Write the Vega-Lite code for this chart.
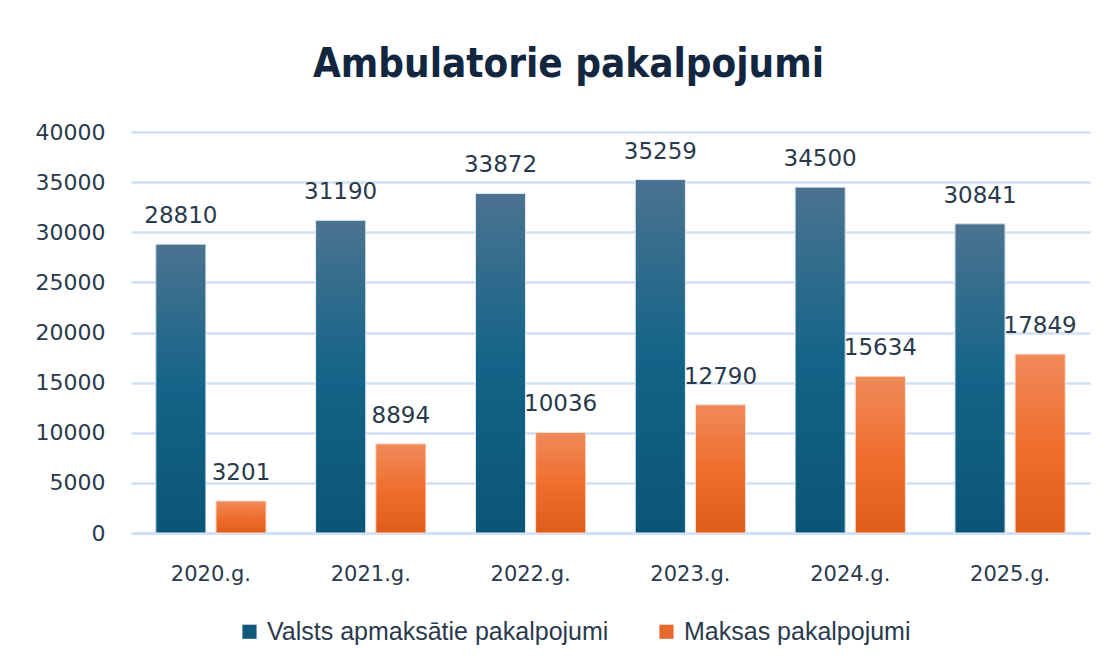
{
  "$schema": "https://vega.github.io/schema/vega-lite/v6.json",
  "width": 959,
  "height": 401,
  "autosize": {"type": "none"},
  "padding": {"left": 131, "top": 132, "right": 17, "bottom": 137},
  "background": "white",
  "config": {"view": {"stroke": null}},
  "title": {
    "text": "Ambulatorie pakalpojumi",
    "font": "DejaVu Sans Condensed, Liberation Sans Narrow, Roboto, sans-serif",
    "fontSize": 40,
    "fontWeight": "bold",
    "color": "#13263f",
    "anchor": "middle",
    "dx": -42,
    "offset": 36
  },
  "data": {
    "values": [
      {"year": "2020.g.", "series": "Valsts apmaksātie pakalpojumi", "value": 28810},
      {"year": "2020.g.", "series": "Maksas pakalpojumi", "value": 3201},
      {"year": "2021.g.", "series": "Valsts apmaksātie pakalpojumi", "value": 31190},
      {"year": "2021.g.", "series": "Maksas pakalpojumi", "value": 8894},
      {"year": "2022.g.", "series": "Valsts apmaksātie pakalpojumi", "value": 33872},
      {"year": "2022.g.", "series": "Maksas pakalpojumi", "value": 10036},
      {"year": "2023.g.", "series": "Valsts apmaksātie pakalpojumi", "value": 35259},
      {"year": "2023.g.", "series": "Maksas pakalpojumi", "value": 12790},
      {"year": "2024.g.", "series": "Valsts apmaksātie pakalpojumi", "value": 34500},
      {"year": "2024.g.", "series": "Maksas pakalpojumi", "value": 15634},
      {"year": "2025.g.", "series": "Valsts apmaksātie pakalpojumi", "value": 30841},
      {"year": "2025.g.", "series": "Maksas pakalpojumi", "value": 17849}
    ]
  },
  "encoding": {
    "x": {
      "field": "year",
      "type": "nominal",
      "sort": null,
      "scale": {"paddingInner": 0.31, "paddingOuter": 0.155},
      "axis": {
        "title": null,
        "labelAngle": 0,
        "labelFont": "DejaVu Sans",
        "labelFontSize": 21,
        "labelColor": "#2a3a4d",
        "labelPadding": 30,
        "ticks": false,
        "domain": true,
        "domainColor": "#cfe0f4",
        "domainWidth": 2.5
      }
    },
    "xOffset": {
      "field": "series",
      "type": "nominal",
      "sort": ["Valsts apmaksātie pakalpojumi", "Maksas pakalpojumi"],
      "scale": {
        "domain": ["Valsts apmaksātie pakalpojumi", "Maksas pakalpojumi"],
        "paddingInner": 0.167,
        "paddingOuter": 0
      }
    },
    "y": {
      "field": "value",
      "type": "quantitative",
      "scale": {"domain": [0, 40000]},
      "axis": {
        "title": null,
        "values": [0, 5000, 10000, 15000, 20000, 25000, 30000, 35000, 40000],
        "format": "d",
        "labelFont": "DejaVu Sans",
        "labelFontSize": 22,
        "labelColor": "#2a3a4d",
        "labelPadding": 26,
        "ticks": false,
        "domain": false,
        "grid": true,
        "gridColor": "#cfe0f4",
        "gridWidth": 2.5
      }
    }
  },
  "layer": [
    {
      "mark": {"type": "bar"},
      "encoding": {
        "color": {
          "field": "series",
          "type": "nominal",
          "sort": ["Valsts apmaksātie pakalpojumi", "Maksas pakalpojumi"],
          "scale": {
            "domain": ["Valsts apmaksātie pakalpojumi", "Maksas pakalpojumi"],
            "range": ["#11587b", "#e8692d"]
          },
          "legend": {
            "title": null,
            "orient": "none",
            "direction": "horizontal",
            "legendX": 106,
            "legendY": 487,
            "symbolType": "square",
            "symbolSize": 200,
            "symbolStrokeWidth": 0,
            "labelFont": "Liberation Sans",
            "labelFontSize": 25,
            "labelColor": "#2a3a4d",
            "labelOffset": 5,
            "columnPadding": 45,
            "labelLimit": 500
          }
        }
      }
    },
    {
      "transform": [{"filter": "datum.series === 'Valsts apmaksātie pakalpojumi'"}],
      "mark": {
        "type": "bar",
        "stroke": "#e6eef6",
        "strokeWidth": 1,
        "color": {
          "gradient": "linear",
          "x1": 0, "y1": 0, "x2": 0, "y2": 1,
          "stops": [
            {"offset": 0, "color": "#4b7390"},
            {"offset": 0.5, "color": "#136488"},
            {"offset": 1, "color": "#0b5577"}
          ]
        }
      }
    },
    {
      "transform": [{"filter": "datum.series === 'Maksas pakalpojumi'"}],
      "mark": {
        "type": "bar",
        "stroke": "#fbe3d6",
        "strokeWidth": 1,
        "color": {
          "gradient": "linear",
          "x1": 0, "y1": 0, "x2": 0, "y2": 1,
          "stops": [
            {"offset": 0, "color": "#ef8a5a"},
            {"offset": 0.5, "color": "#f06f2e"},
            {"offset": 1, "color": "#e05c1c"}
          ]
        }
      }
    },
    {
      "mark": {
        "type": "text",
        "baseline": "alphabetic",
        "dy": -21,
        "font": "DejaVu Sans",
        "fontSize": 23,
        "color": "#2a3a4d"
      },
      "encoding": {
        "text": {"field": "value", "type": "quantitative", "format": "d"}
      }
    }
  ]
}
